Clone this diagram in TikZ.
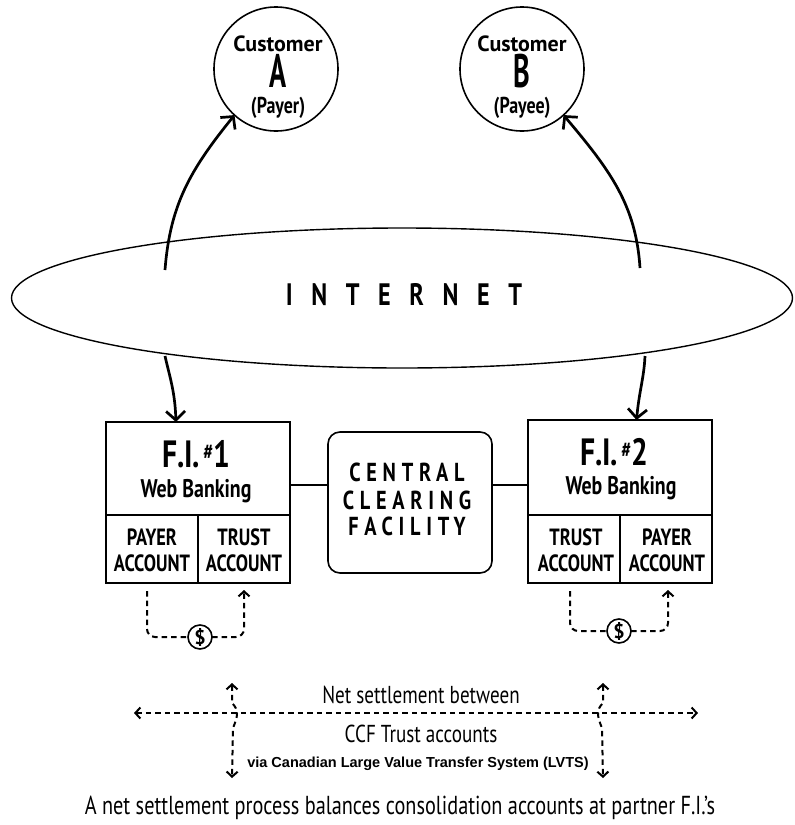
\documentclass[tikz,border=0pt]{standalone}
\usepackage{fontspec}
\setmainfont{PT Sans}
\newfontfamily\cnd{PT Sans}[FakeStretch=0.78]
\newfontfamily\xcnd{PT Sans}[FakeStretch=0.6]
\newfontfamily\arialb{Liberation Sans}[BoldFont=* Bold]
\usetikzlibrary{arrows.meta,calc,shapes.geometric}
\newcommand{\fsz}[1]{\fontsize{#1}{#1}\selectfont}
\begin{document}
\begin{tikzpicture}[x=1pt,y=-1pt,
  every node/.style={inner sep=0pt,outer sep=0pt},
  boxline/.style={draw,line width=1.6pt},
  solidarrow/.style={line width=2.7pt,-{Straight Barb[length=9pt,width=19pt]}},
  dashline/.style={line width=2pt,dash pattern=on 5.5pt off 4pt},
  dasharrow/.style={dashline,-{Straight Barb[length=5pt,width=11pt]}},
  dashboth/.style={dashline,{Straight Barb[length=5pt,width=11pt]}-{Straight Barb[length=5pt,width=11pt]}},
  bigtxt/.style={anchor=base,font=\cnd\bfseries\fsz{38}},
  midtxt/.style={anchor=base,font=\cnd\bfseries\fsz{25.5}},
  acctxt/.style={anchor=base,font=\cnd\bfseries\fsz{23.5}},
  ccftxt/.style={anchor=base,font=\cnd\bfseries\fsz{26}\addfontfeature{LetterSpace=22}},
  custtxt/.style={anchor=base,font=\bfseries\fsz{22}},
  paytxt/.style={anchor=base,font=\cnd\bfseries\fsz{23}},
  lettxt/.style={anchor=base,font=\xcnd\bfseries\fsz{47}},
  plaintxt/.style={anchor=base,font=\cnd\fsz{24.5}}
]
\useasboundingbox (0,0) rectangle (795,825);
\fill[white] (0,0) rectangle (795,825);

% customers
\node[circle,boxline,minimum size=124pt] (ca) at (276,69) {};
\node[circle,boxline,minimum size=124pt] (cb) at (522,69) {};
\node[custtxt] (ca1) at (278,51) {Customer};
\node[lettxt] (ca2) at (278,87) {A};
\node[paytxt] (ca3) at (278,113) {(Payer)};
\node[custtxt] (cb1) at (522,51) {Customer};
\node[lettxt] (cb2) at (522,87) {B};
\node[paytxt] (cb3) at (522,113) {(Payee)};

% internet
\node[ellipse,boxline,line width=1.4pt,minimum width=781pt,minimum height=140pt] (net) at (402,298) {};
\node[anchor=base,font=\cnd\bfseries\fsz{31}\addfontfeature{LetterSpace=60}] (nett) at (404,305) {INTERNET};

\coordinate (na) at (165,270);
\coordinate (nb) at (640,268);
\coordinate (nc) at (165,356);
\coordinate (nd) at (645,356);
\draw[solidarrow] (na) .. controls (170,205) and (190,170) .. (ca.228);
\draw[solidarrow] (nb) .. controls (636,205) and (610,170) .. (cb.-48);

% FI boxes
\node[boxline,minimum width=184pt,minimum height=161pt] (fi1) at (198,502.5) {};
\node[boxline,minimum width=184pt,minimum height=163pt] (fi2) at (620,501.5) {};
\draw[solidarrow] (nc) .. controls (170,378) and (175,392) .. ($(fi1.north west)!0.38!(fi1.north east)$);
\draw[solidarrow] (nd) .. controls (644,378) and (639,392) .. ($(fi2.north west)!0.59!(fi2.north east)$);

\coordinate (h1a) at (106,515); \coordinate (h1b) at (290,515);
\coordinate (v1a) at (198,515); \coordinate (v1b) at (198,583);
\draw[line width=1.6pt] (h1a) -- (h1b) (v1a) -- (v1b);
\coordinate (h2a) at (528,515); \coordinate (h2b) at (712,515);
\coordinate (v2a) at (620,515); \coordinate (v2b) at (620,583);
\draw[line width=1.6pt] (h2a) -- (h2b) (v2a) -- (v2b);

\node[bigtxt] (fi1t) at (196,467) {F.I.\kern3pt\raisebox{8pt}{\fsz{22}\#}1};
\node[midtxt] (fi1w) at (196,497) {Web Banking};
\node[acctxt] (pa1a) at (152,545) {PAYER};
\node[acctxt] (pa1b) at (152,571) {ACCOUNT};
\node[acctxt] (ta1a) at (244,545) {TRUST};
\node[acctxt] (ta1b) at (244,571) {ACCOUNT};
\node[bigtxt] (fi2t) at (614,465) {F.I.\kern3pt\raisebox{8pt}{\fsz{22}\#}2};
\node[midtxt] (fi2w) at (621,494) {Web Banking};
\node[acctxt] (ta2a) at (576,545) {TRUST};
\node[acctxt] (ta2b) at (576,571) {ACCOUNT};
\node[acctxt] (pa2a) at (667,545) {PAYER};
\node[acctxt] (pa2b) at (667,571) {ACCOUNT};

% CCF
\node[boxline,rounded corners=12pt,minimum width=164pt,minimum height=141pt] (ccf) at (410,502.5) {};
\node[ccftxt] (ccf1) at (407,481) {CENTRAL};
\node[ccftxt] (ccf2) at (407,509) {CLEARING};
\node[ccftxt] (ccf3) at (407,535) {FACILITY};
\draw[line width=1.6pt] (fi1.east |- 0,485) -- (ccf.west |- 0,485);
\draw[line width=1.6pt] (ccf.east |- 0,485) -- (fi2.west |- 0,485);

% dollar loops
\node[circle,draw,line width=1.6pt,minimum size=24pt,font=\bfseries\fsz{20}] (d1) at (200,637) {\$};
\node[circle,draw,line width=1.6pt,minimum size=24pt,font=\bfseries\fsz{20}] (d2) at (619,631) {\$};
\draw[dashline,rounded corners=8pt] (147,591) |- (d1.west);
\draw[dasharrow,rounded corners=8pt] (d1.east) -| (244,590);
\draw[dashline,rounded corners=8pt] (570,591) |- (d2.west);
\draw[dasharrow,rounded corners=8pt] (d2.east) -| (668,590);

% net settlement
\coordinate (hl) at (134,713); \coordinate (hr) at (698,713);
\draw[dashboth] (hl) -- (hr);
\coordinate (la) at (232,683); \coordinate (lb) at (232,778);
\coordinate (ra) at (603,683); \coordinate (rb) at (603,778);
\draw[dashboth] (la) -- (232,703) .. controls (239,710) and (238,716) .. (233,728) -- (lb);
\draw[dashboth] (ra) -- (603,703) .. controls (596,710) and (597,716) .. (602,728) -- (rb);
\node[plaintxt] (ns1) at (421,703) {Net settlement between};
\node[plaintxt] (ns2) at (421,742) {CCF Trust accounts};
\node[anchor=base,font=\arialb\bfseries\fsz{14.5}] (ns3) at (418,767) {via Canadian Large Value Transfer System (LVTS)};
\node[anchor=base,font=\cnd\fsz{26}] (cap) at (400,814) {A net settlement process balances consolidation accounts at partner F.I.’s};
\end{tikzpicture}
\end{document}
